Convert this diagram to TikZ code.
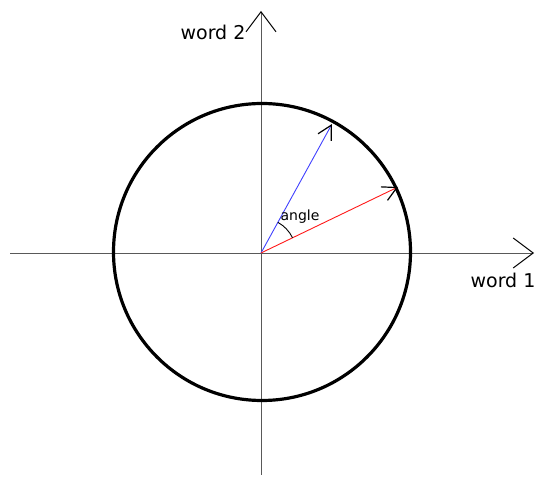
\documentclass[tikz,border=0pt]{standalone}
\usepackage{fontspec}
\setmainfont{DejaVu Sans}
\usetikzlibrary{arrows.meta}

\tikzset{
  axis/.style={gray!70!black, line width=0.9pt,
    -{Straight Barb[length=20pt, width=30pt, color=black, line width=1pt]}},
  vec/.style={line width=0.9pt,
    -{Straight Barb[length=14pt, width=15pt, color=black, line width=1.2pt]}},
  axislabel/.style={font=\fontsize{19}{22}\selectfont},
}

\begin{document}
\begin{tikzpicture}[x=1pt, y=1pt]
    \useasboundingbox (0,0) rectangle (536,477);
    % axes
    \coordinate (O) at (261,224);
    \coordinate (xl) at (10,224);
    \coordinate (xr) at (534,224);
    \coordinate (yb) at (261,2);
    \coordinate (yt) at (261,466);
    \draw[axis] (xl) -- (xr);
    \draw[axis] (yb) -- (yt);
    \node[axislabel] (w1) at (503,197) {word 1};
    \node[axislabel] (w2) at (213,445) {word 2};
    % unit circle
    \draw[line width=3.2pt] ([shift={(1,1)}]O) circle [radius=148.5];
    % the two vectors
    \coordinate (b) at (332,353);
    \coordinate (r) at (398,290);
    \draw[vec, blue!75] (O) -- (b);
    \draw[vec, red!90] (O) -- (r);
    % angle between them
    \draw[line width=0.9pt] ([shift={(25.7:35)}]O) arc[start angle=25.7, end angle=61.2, radius=35];
    \node[font=\fontsize{14}{16}\selectfont] (ang) at (300,260) {angle};
\end{tikzpicture}
\end{document}
